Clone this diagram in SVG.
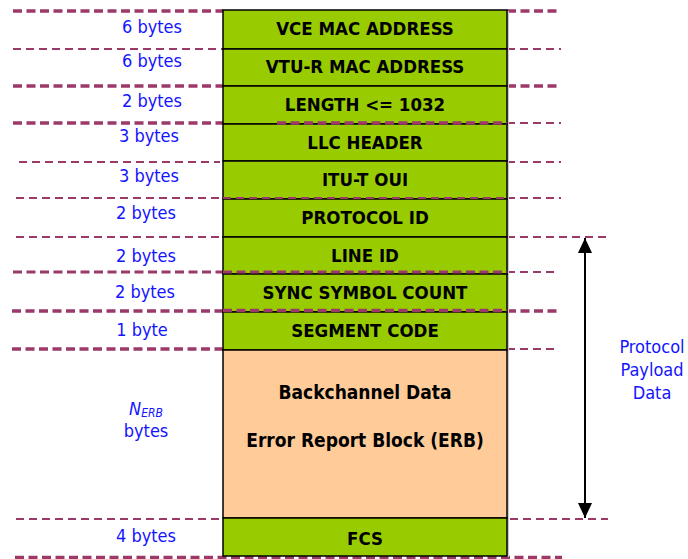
<svg xmlns="http://www.w3.org/2000/svg" width="688" height="559" viewBox="0 0 688 559">
  <style>
    .guide { stroke: #9b3a69; fill: none; }
    .thick { stroke-width: 3.5; stroke-dasharray: 9 4.5; }
    .mid { stroke-width: 2.8; stroke-dasharray: 9 4.5; }
    .thin { stroke-width: 2.2; stroke-dasharray: 8 5; }
    .field { stroke: #000; stroke-width: 1.5; }
    .green { fill: #99cc00; }
    .peach { fill: #ffcc99; }
    .name { font-family: "DejaVu Sans Condensed", "DejaVu Sans", sans-serif; font-stretch: condensed; font-weight: bold; font-size: 18.5px; fill: #000; text-anchor: middle; }
    .big { font-size: 19px; }
    .size { font-family: "DejaVu Sans Condensed", "DejaVu Sans", sans-serif; font-stretch: condensed; font-size: 18px; fill: #1414ff; text-anchor: middle; }
    .arrow { stroke: #000; stroke-width: 2; fill: none; }
  </style>
  <defs>
    <marker id="head" viewBox="0 0 15 14" refX="15" refY="7" markerWidth="15" markerHeight="14" markerUnits="userSpaceOnUse" orient="auto-start-reverse">
      <path d="M0,0 L15,7 L0,14 Z" fill="#000"/>
    </marker>
  </defs>

  <rect width="688" height="559" fill="#fff"/>

  <!-- field boundary guides (behind the frame) -->
  <g id="guides">
    <path class="guide thick" d="M13,11 H223 M507,11 H561"/>
    <path class="guide thin" d="M13,49 H223 M507,49 H561"/>
    <path class="guide thick" d="M13,86 H223 M507,86 H561"/>
    <path class="guide thick" d="M13,123 H223"/>
    <path class="guide thin" d="M507,123 H561"/>
    <path class="guide thin" d="M19,162 H220 M507,162 H561"/>
    <path class="guide thin" d="M16,198 H223 M507,198 H561"/>
    <path class="guide thin" d="M16,237 H223 M507,237 H608"/>
    <path class="guide mid" d="M13,272 H223"/>
    <path class="guide thin" d="M507,272 H558"/>
    <path class="guide thick" d="M12,311 H223 M507,311 H557"/>
    <path class="guide thick" d="M12,349 H223"/>
    <path class="guide thin" d="M507,349 H557"/>
    <path class="guide thin" d="M16,519 H223 M510,519 H608"/>
    <path class="guide thick" d="M15,557.5 H562"/>
  </g>

  <!-- frame shadow -->
  <rect x="507" y="11" width="2" height="546" fill="#c8c8c8"/>

  <!-- frame fields -->
  <g id="vce-mac">
    <rect class="field green" x="223" y="10" width="284" height="39"/>
    <text class="name" x="365" y="35">VCE MAC ADDRESS</text>
  </g>
  <g id="vtur-mac">
    <rect class="field green" x="223" y="49" width="284" height="37"/>
    <text class="name" x="365" y="73">VTU-R MAC ADDRESS</text>
  </g>
  <g id="length">
    <rect class="field green" x="223" y="86" width="284" height="38"/>
    <text class="name" x="365" y="111">LENGTH &lt;= 1032</text>
  </g>
  <g id="llc-header">
    <rect class="field green" x="223" y="124" width="284" height="37"/>
    <text class="name" x="365" y="149">LLC HEADER</text>
  </g>
  <g id="itu-oui">
    <rect class="field green" x="223" y="161" width="284" height="38"/>
    <text class="name" x="365" y="186">ITU-T OUI</text>
  </g>
  <g id="protocol-id">
    <rect class="field green" x="223" y="199" width="284" height="38"/>
    <text class="name" x="365" y="224">PROTOCOL ID</text>
  </g>
  <g id="line-id">
    <rect class="field green" x="223" y="237" width="284" height="37"/>
    <text class="name" x="365" y="262">LINE ID</text>
  </g>
  <g id="sync-count">
    <rect class="field green" x="223" y="274" width="284" height="38"/>
    <text class="name" x="365" y="299">SYNC SYMBOL COUNT</text>
  </g>
  <g id="segment-code">
    <rect class="field green" x="223" y="312" width="284" height="38"/>
    <text class="name" x="365" y="337">SEGMENT CODE</text>
  </g>
  <g id="erb">
    <rect class="field peach" x="223" y="350" width="284" height="168"/>
    <text class="name big" x="365" y="399">Backchannel Data</text>
    <text class="name big" x="365" y="447">Error Report Block (ERB)</text>
  </g>
  <g id="fcs">
    <rect class="field green" x="223" y="518" width="284" height="38"/>
    <text class="name" x="365" y="545">FCS</text>
  </g>

  <!-- guides drawn over the frame -->
  <g id="guides-over">
    <path class="guide thick" d="M277,123 H507"/>
    <path class="guide thin" d="M223,198 H507"/>
    <path class="guide mid" d="M223,272 H507"/>
    <path class="guide thick" d="M223,310.5 H507"/>
  </g>

  <!-- field sizes -->
  <g id="sizes">
    <text class="size" x="152" y="33">6 bytes</text>
    <text class="size" x="152" y="67">6 bytes</text>
    <text class="size" x="152" y="107">2 bytes</text>
    <text class="size" x="149" y="142">3 bytes</text>
    <text class="size" x="149" y="182">3 bytes</text>
    <text class="size" x="146" y="219">2 bytes</text>
    <text class="size" x="146" y="262">2 bytes</text>
    <text class="size" x="145" y="298">2 bytes</text>
    <text class="size" x="142" y="336">1 byte</text>
    <text class="size" x="146" y="415" font-style="italic">N<tspan font-size="12" dy="2">ERB</tspan></text>
    <text class="size" x="146" y="437">bytes</text>
    <text class="size" x="146" y="542">4 bytes</text>
  </g>

  <!-- payload span -->
  <g id="connectors">
    <line class="arrow" x1="585" y1="238" x2="585" y2="518" marker-start="url(#head)" marker-end="url(#head)"/>
  </g>
  <g id="payload-label">
    <text class="size" x="652" y="353">Protocol</text>
    <text class="size" x="652" y="376">Payload</text>
    <text class="size" x="652" y="399">Data</text>
  </g>
</svg>
